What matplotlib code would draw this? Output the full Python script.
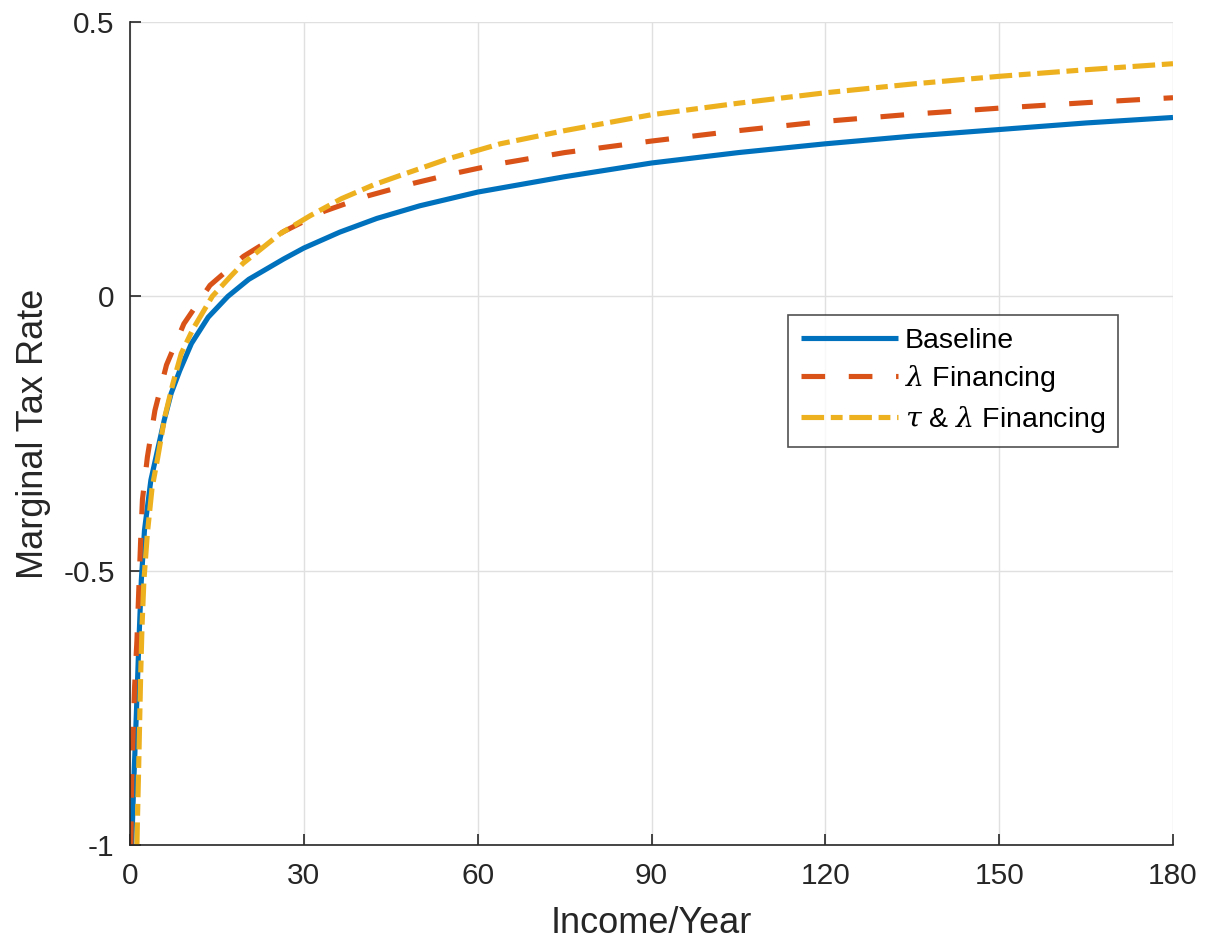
import matplotlib
matplotlib.use("Agg")
import matplotlib.pyplot as plt

# ---- data ----
baseline_x = [0.3, 0.67, 1.1, 1.5, 1.95, 2.5, 3.6, 4.8, 5.9, 7.1, 8.6, 10.6, 13.5, 16.9, 20.5, 26.5, 30, 36.2, 42.6, 50, 60, 75, 90, 105, 120, 135, 150, 165, 180]
baseline_y = [-1.0, -0.88, -0.76, -0.639, -0.518, -0.426, -0.335, -0.278, -0.226, -0.177, -0.135, -0.086, -0.038, 0.0, 0.031, 0.068, 0.088, 0.117, 0.142, 0.165, 0.19, 0.218, 0.243, 0.262, 0.278, 0.292, 0.304, 0.316, 0.326]

lam_x = [0.15, 0.3, 0.55, 0.8, 1.2, 1.5, 1.85, 2.15, 3.0, 4.3, 6.3, 9.3, 13.8, 19.6, 26.5, 33.5, 41, 48.9, 56.4, 63.9, 75, 90, 105, 120, 135, 150, 165, 180]
lam_y = [-1.0, -0.88, -0.79, -0.71, -0.626, -0.54, -0.442, -0.37, -0.293, -0.208, -0.125, -0.05, 0.02, 0.073, 0.118, 0.155, 0.183, 0.206, 0.225, 0.242, 0.262, 0.283, 0.302, 0.319, 0.332, 0.343, 0.353, 0.362]

taulam_x = [1.2, 1.26, 1.5, 1.67, 1.85, 2.07, 2.4, 3.0, 3.8, 4.8, 6.0, 7.4, 8.85, 10.9, 14.2, 17.5, 19.5, 25.9, 31.1, 36.5, 42, 46, 54.7, 63.9, 75, 90, 105, 120, 135, 150, 165, 180]
taulam_y = [-1.0, -0.967, -0.858, -0.773, -0.687, -0.603, -0.518, -0.432, -0.35, -0.293, -0.22, -0.159, -0.104, -0.059, 0.0, 0.038, 0.06, 0.114, 0.147, 0.178, 0.203, 0.218, 0.25, 0.278, 0.302, 0.331, 0.352, 0.371, 0.387, 0.401, 0.413, 0.424]

series_labels = ["Baseline", r"$\lambda$ Financing", r"$\tau$ & $\lambda$ Financing"]
xticks = [0, 30, 60, 90, 120, 150, 180]
yticks = [-1, -0.5, 0, 0.5]
ytick_labels = ["-1", "-0.5", "0", "0.5"]

plt.rcParams['font.family'] = ['Liberation Sans', 'DejaVu Sans']
plt.rcParams['mathtext.fontset'] = 'custom'
plt.rcParams['mathtext.it'] = 'DejaVu Serif:italic'

dark = '#262626'
fig = plt.figure(figsize=(12.22, 9.48), dpi=100)
ax = fig.add_axes([130/1222, 1-845/948, (1173-130)/1222, (845-22)/948])

lw = 3.7
ax.plot(baseline_x, baseline_y, color='#0072BD', lw=lw, solid_capstyle='butt',
        solid_joinstyle='round', label=series_labels[0])
ax.plot(lam_x, lam_y, color='#D95319', lw=lw, dashes=(4.6, 4.6), label=series_labels[1])
ax.plot(taulam_x, taulam_y, color='#EDB120', lw=lw, dashes=(4.4, 1.3, 2.3, 1.3), label=series_labels[2])

ax.set_xlim(0, 180)
ax.set_ylim(-1, 0.5)
ax.set_xticks(xticks)
ax.set_xticklabels([str(t) for t in xticks])
ax.set_yticks(yticks)
ax.set_yticklabels(ytick_labels)
ax.grid(True, color='#e0e0e0', lw=1)
ax.set_axisbelow(True)
for s in ['top', 'right']:
    ax.spines[s].set_visible(False)
for s in ['left', 'bottom']:
    ax.spines[s].set_color(dark)
    ax.spines[s].set_linewidth(1.2)
ax.tick_params(direction='in', length=8, width=1.2, colors=dark, labelsize=21.5)
ax.tick_params(axis='y', pad=11)
ax.tick_params(axis='x', pad=12)

ax.set_xlabel("Income/Year", fontsize=26, color=dark, labelpad=12)
ax.set_ylabel("Marginal Tax Rate", fontsize=26, color=dark, labelpad=9)

leg = ax.legend(loc='upper left', bbox_to_anchor=((788-130)/1043, (845-315)/823),
                borderaxespad=0, fontsize=20.5, frameon=True, fancybox=False,
                handlelength=3.4, handletextpad=0.25, labelspacing=0.33,
                borderpad=0.45)
leg.get_frame().set_edgecolor(dark)
leg.get_frame().set_linewidth(1.2)

fig.savefig("out.png", dpi=100)
